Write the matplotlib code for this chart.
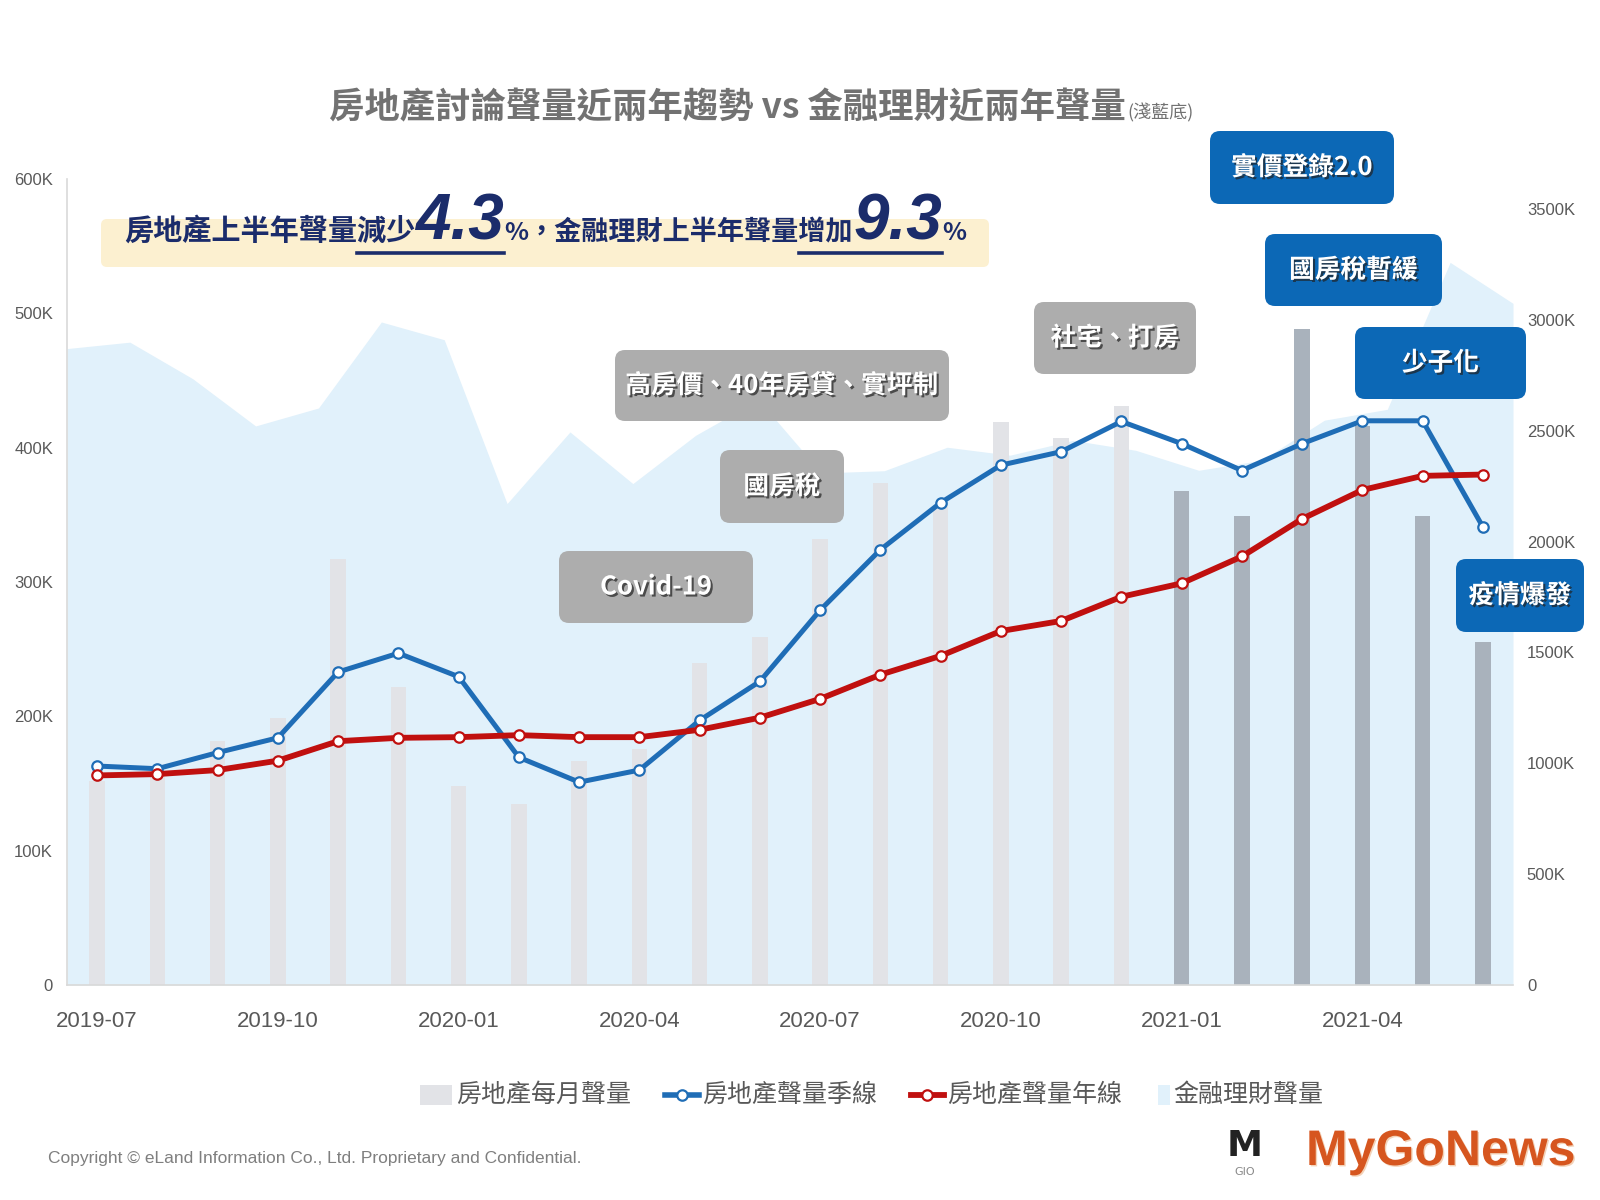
import matplotlib
matplotlib.use('Agg')
import matplotlib.pyplot as plt
import matplotlib.patheffects as pe
from matplotlib.patches import FancyBboxPatch, Rectangle
from matplotlib.lines import Line2D
import numpy as np

plt.rcParams['font.family'] = ['Noto Sans CJK TC', 'DejaVu Sans']

# 資料 (單位: K)
months = ['2019-07', '2019-08', '2019-09', '2019-10', '2019-11', '2019-12',
          '2020-01', '2020-02', '2020-03', '2020-04', '2020-05', '2020-06',
          '2020-07', '2020-08', '2020-09', '2020-10', '2020-11', '2020-12',
          '2021-01', '2021-02', '2021-03', '2021-04', '2021-05', '2021-06']
monthly_k = [152, 158, 182, 199, 317, 222, 148, 135, 167, 176, 240, 259,
             332, 374, 357, 419, 407, 431, 368, 349, 488, 416, 349, 255]
quarter_k = [163, 161, 173, 184, 233, 247, 229.5, 169.5, 151, 160, 197, 226,
             279, 324, 359, 387, 397, 419.5, 403, 383, 403, 420, 420, 341]
annual_k = [156, 157, 160, 167, 181.5, 184, 184.5, 186, 184.5, 184.5, 190, 199,
            213, 231, 245, 263.5, 271, 289, 299, 319, 347, 368.5, 379, 380]
finance_k = [2871, 2900, 2735, 2522, 2603, 2991, 2911, 2172, 2495, 2262, 2480, 2640,
             2310, 2320, 2426, 2390, 2457, 2412, 2322, 2367, 2548, 2597, 3260, 3075]
dark_from = '2021-01'
left_ticks = [0, 100, 200, 300, 400, 500, 600]
right_ticks = [0, 500, 1000, 1500, 2000, 2500, 3000, 3500]

BLUE = '#1F6DB6'
RED = '#C0100F'
GRAY_TXT = '#595959'

W, H = 1600, 1200
fig = plt.figure(figsize=(16, 12), dpi=100)
inch = fig.dpi_scale_trans


def px(x, y):
    # 像素座標 (左上原點) -> 英吋
    return x / 100, (H - y) / 100


ax = fig.add_axes([67 / W, 1 - 985 / H, (1513 - 67) / W, (985 - 179) / H])
ax2 = ax.twinx()
ax2.set_zorder(ax.get_zorder() - 1)
ax.patch.set_visible(False)

x = np.arange(len(months))
x_area = np.linspace(-0.5, len(months) - 0.5, len(months))

ax2.fill_between(x_area, finance_k, color='#E1F1FB', lw=0)
ax2.set_ylim(0, 3636)

n_light = months.index(dark_from)
bar_colors = ['#E2E3E7'] * n_light + ['#A9B2BC'] * (len(months) - n_light)
ax.bar(x, monthly_k, width=0.26, color=bar_colors, zorder=2)

ax.plot(x, quarter_k, color=BLUE, lw=3.6, marker='o', ms=7.5, mfc='white',
        mec=BLUE, mew=1.6, zorder=4)
ax.plot(x, annual_k, color=RED, lw=4.2, marker='o', ms=7.5, mfc='white',
        mec=RED, mew=1.6, zorder=5)

ax.set_xlim(-0.5, len(months) - 0.5)
ax.set_ylim(0, 600)
ax.set_xticks(x[::3])
ax.set_xticklabels(months[::3])
ax.set_yticks(left_ticks)
ax.set_yticklabels(['0' if v == 0 else f'{v}K' for v in left_ticks])
ax2.set_yticks(right_ticks)
ax2.set_yticklabels(['0' if v == 0 else f'{v}K' for v in right_ticks])

ax.tick_params(axis='x', length=0, pad=19, labelsize=16, labelcolor=GRAY_TXT)
ax.tick_params(axis='y', length=0, pad=10, labelsize=12, labelcolor=GRAY_TXT)
ax2.tick_params(axis='y', length=0, pad=10, labelsize=12, labelcolor=GRAY_TXT)
for lab in ax.get_xticklabels() + ax.get_yticklabels() + ax2.get_yticklabels():
    lab.set_fontfamily(['Liberation Sans', 'DejaVu Sans'])

for s in ['top', 'right']:
    ax.spines[s].set_visible(False)
for s in ax2.spines.values():
    s.set_visible(False)
ax.spines['left'].set_color('#D9D9D9')
ax.spines['bottom'].set_color('#D9D9D9')
ax.spines['left'].set_linewidth(1.2)
ax.spines['bottom'].set_linewidth(1.2)

renderer = fig.canvas.get_renderer()

# 標題
t1 = fig.text(*px(329, 118), '房地產討論聲量近兩年趨勢 vs 金融理財近兩年聲量',
              transform=inch, size=25.5, weight='bold', color='#727272', va='baseline')
bb = t1.get_window_extent(renderer)
fig.text(bb.x1 / 100 + 0.02, (H - 118) / 100, '(淺藍底)', transform=inch, size=13,
         color='#727272', va='baseline')

# 黃色橫幅
fig.patches.append(FancyBboxPatch(px(101, 267), 8.88, 0.48, transform=inch,
                                  boxstyle='round,pad=0,rounding_size=0.06',
                                  fc='#FCF0D0', ec='none', zorder=1))
NAVY = '#1B2C6B'
segs = [('房地產上半年聲量減少', 21, None), ('4.3', 46, 'num'), ('%', 18, None),
        ('，金融理財上半年聲量增加', 19.5, None), ('9.3', 46, 'num'), ('%', 18, None)]
cx = 124
ext = []
for s, size, kind in segs:
    fam = ['Liberation Sans', 'DejaVu Sans'] if kind == 'num' else ['Noto Sans CJK TC', 'DejaVu Sans']
    t = fig.text(*px(cx, 240), s, transform=inch, size=size, weight='bold',
                 style='italic', color=NAVY, va='baseline', family=fam, zorder=3)
    b = t.get_window_extent(renderer)
    ext.append((cx, cx + b.width, len(s)))
    cx += b.width
for i in (0, 3):
    x0, x1, n = ext[i]
    cw = (x1 - x0) / n
    start = x1 - 2 * cw
    end = ext[i + 1][1]
    fig.add_artist(Line2D([start / 100, end / 100], [(H - 253) / 100] * 2,
                          transform=inch, color=NAVY, lw=2.6, zorder=3))


# 事件標籤
def tag(x0, x1, y0, y1, text, fc):
    fig.patches.append(FancyBboxPatch(px(x0, y1), (x1 - x0) / 100, (y1 - y0) / 100,
                                      transform=inch, boxstyle='round,pad=0,rounding_size=0.1',
                                      fc=fc, ec='none', zorder=6))
    fig.text(*px((x0 + x1) / 2, (y0 + y1) / 2), text, transform=inch, size=18.5,
             weight='bold', color='white', ha='center', va='center', zorder=7,
             path_effects=[pe.withSimplePatchShadow(offset=(1.5, -1.5),
                                                    shadow_rgbFace='#222222', alpha=0.7)])


GRAY_BOX = '#ADADAD'
BLUE_BOX = '#0C68B6'
tag(615, 949, 350, 421, '高房價、40年房貸、實坪制', GRAY_BOX)
tag(720, 844, 450, 523, '國房稅', GRAY_BOX)
tag(559, 753, 551, 623, 'Covid-19', GRAY_BOX)
tag(1034, 1196, 302, 374, '社宅、打房', GRAY_BOX)
tag(1210, 1394, 131, 204, '實價登錄2.0', BLUE_BOX)
tag(1265, 1442, 234, 306, '國房稅暫緩', BLUE_BOX)
tag(1355, 1526, 327, 399, '少子化', BLUE_BOX)
tag(1456, 1584, 559, 632, '疫情爆發', BLUE_BOX)

# 圖例
ly = 1095
fig.patches.append(Rectangle(px(420, ly + 10), 0.32, 0.2, transform=inch, fc='#E2E3E7', ec='none'))
fig.text(*px(456, ly), '房地產每月聲量', transform=inch, size=18, color=GRAY_TXT, va='center')
fig.add_artist(Line2D([6.65, 6.99], [(H - ly) / 100] * 2, transform=inch, color=BLUE, lw=4))
fig.add_artist(Line2D([6.82], [(H - ly) / 100], transform=inch, marker='o', ms=7.5,
                      mfc='white', mec=BLUE, mew=1.6))
fig.text(*px(702, ly), '房地產聲量季線', transform=inch, size=18, color=GRAY_TXT, va='center')
fig.add_artist(Line2D([9.11, 9.44], [(H - ly) / 100] * 2, transform=inch, color=RED, lw=4.2))
fig.add_artist(Line2D([9.27], [(H - ly) / 100], transform=inch, marker='o', ms=7.5,
                      mfc='white', mec=RED, mew=1.6))
fig.text(*px(947, ly), '房地產聲量年線', transform=inch, size=18, color=GRAY_TXT, va='center')
fig.patches.append(Rectangle(px(1158, ly + 10), 0.12, 0.2, transform=inch, fc='#E1F1FB', ec='none'))
fig.text(*px(1173, ly), '金融理財聲量', transform=inch, size=18, color=GRAY_TXT, va='center')

# 版權與標誌
fig.text(*px(48, 1158), 'Copyright © eLand Information Co., Ltd. Proprietary and Confidential.',
         transform=inch, size=12.5, color='#7F7F7F', va='center',
         family=['Liberation Sans', 'DejaVu Sans'])
fig.text(*px(1245, 1146), 'M', transform=inch, size=26, weight='bold', color='#222222',
         ha='center', va='center', family=['DejaVu Sans'])
fig.text(*px(1245, 1172), 'GIO', transform=inch, size=8, color='#888888',
         ha='center', va='center', family=['DejaVu Sans'])
fig.text(*px(1306, 1152), 'MyGoNews', transform=inch, size=36, weight='bold',
         color='#D6561F', va='center', family=['Liberation Sans', 'DejaVu Sans'],
         path_effects=[pe.withSimplePatchShadow(offset=(1, -1), shadow_rgbFace='#F0C8A8', alpha=0.8)])

fig.savefig('out.png', dpi=100)
